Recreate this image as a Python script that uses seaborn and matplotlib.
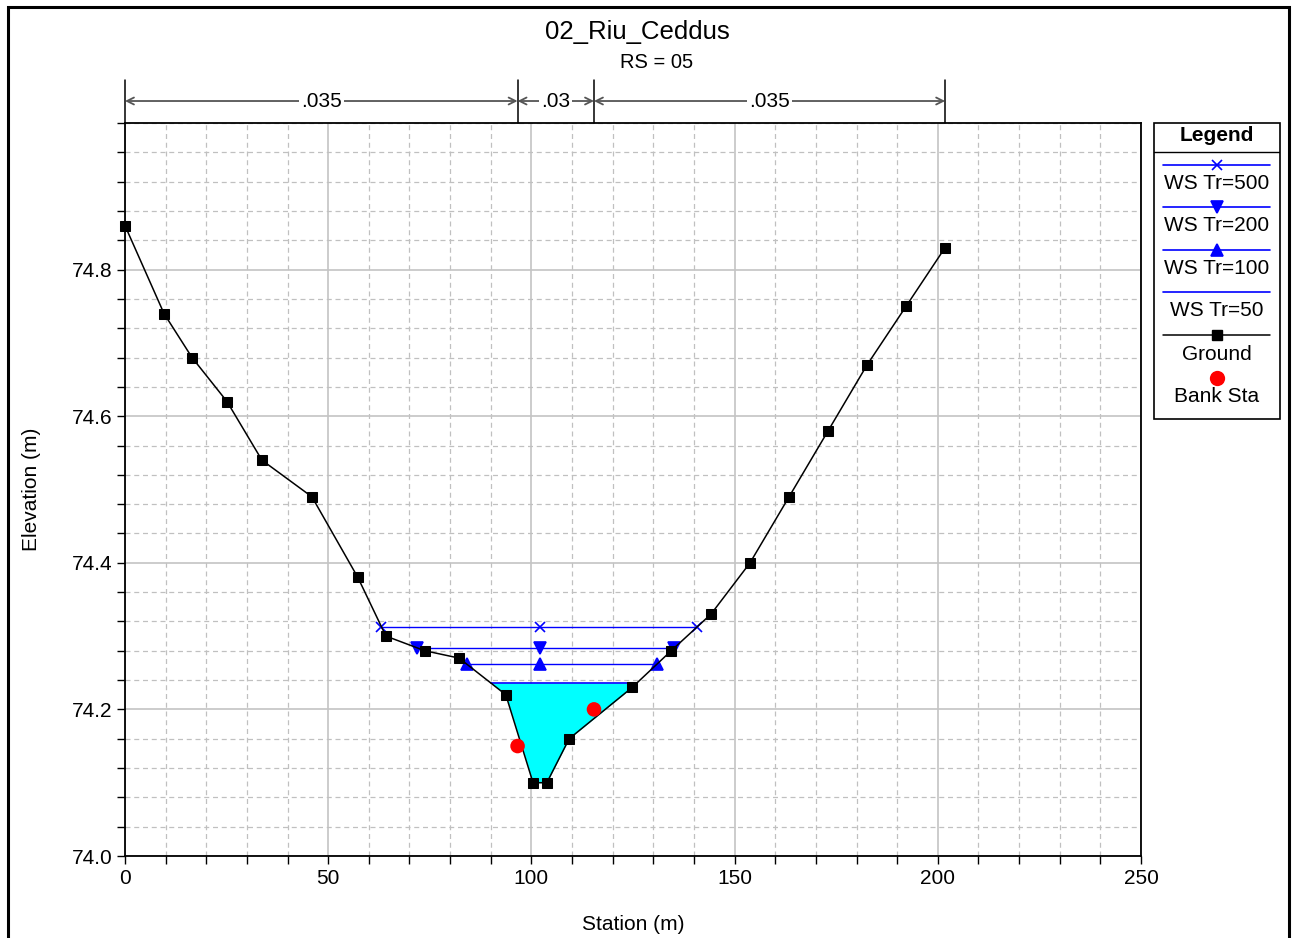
import numpy as np
import pandas as pd
import matplotlib
matplotlib.use("Agg")
import matplotlib.pyplot as plt
import matplotlib.transforms as mtransforms
from matplotlib.patches import Rectangle
from matplotlib.ticker import MultipleLocator, FormatStrFormatter
import seaborn as sns

# ---------------- data ----------------
station = [0, 9.6, 16.5, 25.1, 33.7, 46.0, 57.3, 64.2, 73.8, 82.2, 93.7, 100.4,
           103.8, 109.3, 124.8, 134.4, 144.2, 153.8, 163.4, 173.0, 182.6, 192.2, 201.8]
elevation = [74.86, 74.74, 74.68, 74.62, 74.54, 74.49, 74.38, 74.30, 74.28, 74.27, 74.22, 74.10,
             74.10, 74.16, 74.23, 74.28, 74.33, 74.40, 74.49, 74.58, 74.67, 74.75, 74.83]
bank_sta = [96.6, 115.4]
bank_elev = [74.15, 74.20]
profiles = ["WS Tr=500", "WS Tr=200", "WS Tr=100", "WS Tr=50"]
ws_elev = [74.313, 74.284, 74.262, 74.236]
ws_markers = ["x", "v", "^", None]
mid_marker_sta = 102.1
manning_n = [".035", ".03", ".035"]
manning_bounds = [0, 96.6, 115.4, 201.8]
title = "02_Riu_Ceddus"
subtitle = "RS = 05"

# ---------------- style ----------------
sns.set_style("white")
plt.rcParams['font.family'] = ['Liberation Sans', 'DejaVu Sans']
plt.rcParams['text.color'] = 'black'
plt.rcParams['axes.labelcolor'] = 'black'
plt.rcParams['xtick.color'] = 'black'
plt.rcParams['ytick.color'] = 'black'

W, H = 1292, 938
fig = plt.figure(figsize=(W / 100, H / 100), dpi=100)
ax = fig.add_axes([125 / W, (H - 856) / H, (1141 - 125) / W, (856 - 123) / H])

ground = pd.DataFrame({"Station": station, "Elevation": elevation})


def crossings(x, z, w):
    x = np.asarray(x, float)
    z = np.asarray(z, float)
    i0 = int(np.argmin(z))
    i = i0
    while i > 0 and z[i - 1] < w:
        i -= 1
    xl = x[i - 1] + (z[i - 1] - w) / (z[i - 1] - z[i]) * (x[i] - x[i - 1])
    j = i0
    while j < len(z) - 1 and z[j + 1] < w:
        j += 1
    xr = x[j] + (w - z[j]) / (z[j + 1] - z[j]) * (x[j + 1] - x[j])
    return xl, xr


# water fill for the lowest profile (Tr=50)
w50 = ws_elev[-1]
xl, xr = crossings(station, elevation, w50)
xs = [xl] + [s for s in station if xl < s < xr] + [xr]
zs = np.interp(xs, station, elevation)
ax.fill_between(xs, zs, w50, color="#00ffff", lw=0, zorder=2)

# water surface lines
for name, w, m in zip(profiles, ws_elev, ws_markers):
    a, b = crossings(station, elevation, w)
    if m is None:
        d = pd.DataFrame({"Station": [a, b], "WS": [w, w]})
        sns.lineplot(data=d, x="Station", y="WS", ax=ax, color="#0000ff", lw=1.2,
                     estimator=None, sort=False, zorder=3)
    else:
        d = pd.DataFrame({"Station": [a, mid_marker_sta, b], "WS": [w, w, w]})
        sns.lineplot(data=d, x="Station", y="WS", ax=ax, color="#0000ff", lw=1.0,
                     marker=m, markersize=8 if m != "x" else 7, mew=1.2,
                     markeredgecolor="#0000ff", markerfacecolor="#0000ff",
                     estimator=None, sort=False, zorder=3)

# ground
sns.lineplot(data=ground, x="Station", y="Elevation", ax=ax, color="black", lw=1.1,
             marker="s", markersize=6.5, markeredgecolor="black", markerfacecolor="black",
             estimator=None, sort=False, zorder=4, clip_on=False)

# bank stations
banks = pd.DataFrame({"Station": bank_sta, "Elevation": bank_elev})
sns.scatterplot(data=banks, x="Station", y="Elevation", ax=ax, color="#ff0000",
                s=110, edgecolor="none", zorder=5)

# ---------------- axes ----------------
ax.set_xlim(0, 250)
ax.set_ylim(74.0, 75.0)
ax.set_xticks([0, 50, 100, 150, 200, 250])
ax.set_yticks([74.0, 74.2, 74.4, 74.6, 74.8])
ax.xaxis.set_minor_locator(MultipleLocator(10))
ax.yaxis.set_minor_locator(MultipleLocator(0.04))
ax.yaxis.set_major_formatter(FormatStrFormatter("%.1f"))
ax.set_axisbelow(True)
ax.grid(which="major", color="#c4c4c4", ls="-", lw=1.2)
ax.grid(which="minor", color="#c0c0c0", ls=(0, (4, 3)), lw=0.9)
ax.tick_params(which="both", direction="out", length=6, width=1, color="black",
               labelsize=15, bottom=True, left=True, pad=3, labelcolor="black")
for sp in ax.spines.values():
    sp.set_color("black")
    sp.set_linewidth(1.3)
ax.set_xlabel("Station (m)", fontsize=15, labelpad=20, color="black")
ax.set_ylabel("Elevation (m)", fontsize=15, labelpad=22, color="black")

# Manning's n bar above the plot
trans = mtransforms.blended_transform_factory(ax.transData, ax.transAxes)
for bnd in manning_bounds:
    ax.plot([bnd, bnd], [1.0, 1.059], transform=trans, color="black", lw=1.1, clip_on=False)
for i, n in enumerate(manning_n):
    b0, b1 = manning_bounds[i], manning_bounds[i + 1]
    ax.annotate("", xy=(b0, 1.030), xytext=(b1, 1.030), xycoords=trans, textcoords=trans,
                arrowprops=dict(arrowstyle="<->,head_length=0.5,head_width=0.25",
                                color="#555555", lw=1.3, shrinkA=0, shrinkB=0))
    ax.text((b0 + b1) / 2, 1.030, n, transform=trans, ha="center", va="center",
            fontsize=15, color="black", bbox=dict(fc="white", ec="none", pad=1.5))

# titles
fig.text(637 / W, 1 - 32 / H, title, ha="center", va="center", fontsize=18.5, color="black")
fig.text(657 / W, 1 - 62 / H, subtitle, ha="center", va="center", fontsize=14.5, color="black")

# ---------------- legend ----------------
lax = fig.add_axes([1153 / W, (H - 420) / H, 127 / W, 297 / H])
lax.set_xlim(0, 127)
lax.set_ylim(297, 0)
lax.axis("off")
lax.add_patch(Rectangle((0.5, 0.5), 126, 296, fill=False, ec="black", lw=1.2, clip_on=False))
lax.plot([0.5, 126.5], [29, 29], color="black", lw=1.0)
lax.text(63.5, 13, "Legend", ha="center", va="center", fontsize=15, fontweight="bold", color="black")
line_y = [42, 84, 127, 169]
text_y = [61, 103, 146, 188]
for name, m, ly, ty in zip(profiles, ws_markers, line_y, text_y):
    lax.plot([10, 117], [ly, ly], color="#0000ff", lw=1.2)
    if m is not None:
        lax.plot([63.5], [ly], marker=m, color="#0000ff", markersize=8 if m != "x" else 7, mew=1.2)
    lax.text(63.5, ty, name, ha="center", va="center", fontsize=15, color="black")
lax.plot([10, 117], [212, 212], color="black", lw=1.1)
lax.plot([63.5], [212], marker="s", color="black", markersize=6.5)
lax.text(63.5, 231, "Ground", ha="center", va="center", fontsize=15, color="black")
lax.plot([63.5], [255], marker="o", color="#ff0000", markersize=11, mew=0)
lax.text(63.5, 273, "Bank Sta", ha="center", va="center", fontsize=15, color="black")

# outer frame
fig.patches.append(Rectangle((8 / W, -0.01), (1289 - 8) / W, 1.01 - 7 / H,
                             transform=fig.transFigure, fill=False, ec="black", lw=2.2))

fig.savefig("out.png", dpi=100)
